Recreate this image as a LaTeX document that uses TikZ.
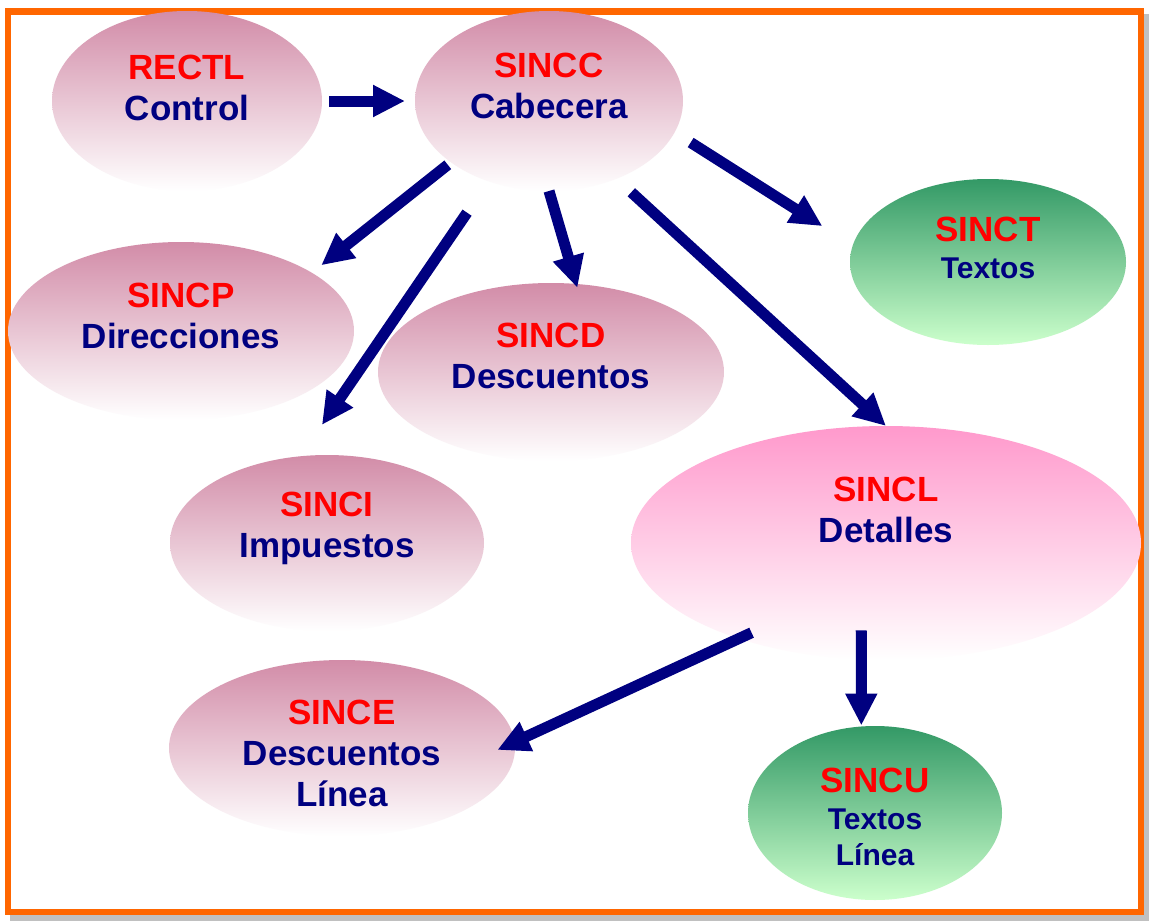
\documentclass[tikz,border=0pt]{standalone}
\usepackage{fontspec}
\setmainfont{Liberation Sans}
\usetikzlibrary{shapes.geometric,arrows.meta}
\definecolor{navy}{RGB}{0,0,128}
\definecolor{framecol}{RGB}{255,102,0}
\definecolor{shadowcol}{RGB}{192,192,192}
\definecolor{mauve}{RGB}{210,140,168}
\definecolor{rose}{RGB}{255,153,204}
\definecolor{leaf}{RGB}{51,153,102}
\definecolor{mint}{RGB}{204,255,204}
\newcommand{\tabla}[1]{\textcolor{red}{#1}}
\newcommand{\chico}{\fontsize{30}{37}\selectfont}
\begin{document}
\begin{tikzpicture}[x=1pt,y=-1pt]
		\tikzstyle{bubble}=[ellipse,inner sep=0,outer sep=0]
		\tikzstyle{mauvefill}=[top color=mauve,bottom color=white]
		\tikzstyle{rosefill}=[top color=rose,bottom color=white]
		\tikzstyle{leaffill}=[top color=leaf,bottom color=mint]
		\tikzstyle{tabletext}=[align=center,inner sep=0,anchor=north,text=navy,font=\bfseries\fontsize{35}{41}\selectfont]
		\tikzstyle{flow}=[navy,line width=11pt,-{Triangle[length=32pt,width=30pt]}]
		\useasboundingbox (0,0) rectangle (1149,921);
		% frame
		\fill[shadowcol] (10,14) rectangle (1149,921);
		\draw[framecol,fill=white,line width=6.5pt] (8,11.5) rectangle (1141,912);
		% tables
		\node[bubble,mauvefill,minimum width=270pt,minimum height=180pt](rectl)at(187,101){};
		\node[bubble,mauvefill,minimum width=268pt,minimum height=180pt](sincc)at(549,101){};
		\node[bubble,leaffill,minimum width=276pt,minimum height=166pt](sinct)at(988,262){};
		\node[bubble,mauvefill,minimum width=346pt,minimum height=178pt](sincp)at(181,331){};
		\node[bubble,mauvefill,minimum width=346pt,minimum height=178pt](sincd)at(551,372){};
		\node[bubble,mauvefill,minimum width=314pt,minimum height=176pt](sinci)at(327,543){};
		\node[bubble,rosefill,minimum width=510pt,minimum height=234pt](sincl)at(886,543){};
		\node[bubble,mauvefill,minimum width=346pt,minimum height=176pt](since)at(342,748){};
		\node[bubble,leaffill,minimum width=254pt,minimum height=174pt](sincu)at(875,813){};
		% names
		\node[tabletext](rectl-t)at(187,55){\tabla{RECTL}\\Control};
		\node[tabletext](sincc-t)at(549,53){\tabla{SINCC}\\Cabecera};
		\node[tabletext](sinct-t)at(988,217){\tabla{SINCT}\\[-4pt]{\chico Textos}};
		\node[tabletext](sincp-t)at(181,283){\tabla{SINCP}\\Direcciones};
		\node[tabletext](sincd-t)at(551,323){\tabla{SINCD}\\Descuentos};
		\node[tabletext](sinci-t)at(327,492){\tabla{SINCI}\\Impuestos};
		\node[tabletext](sincl-t)at(886,477){\tabla{SINCL}\\Detalles};
		\node[tabletext](since-t)at(342,700){\tabla{SINCE}\\Descuentos\\L\'{\i}nea};
		\node[tabletext](sincu-t)at(875,768){\tabla{SINCU}\\[-4pt]{\chico Textos}\\[-5pt]{\chico L\'{\i}nea}};
		% links
		\draw[flow,shorten <=7pt,shorten >=10pt] (rectl.east) -- (sincc.west);
		\draw[flow,shorten <=4pt,shorten >=12pt] (sincc.212) -- (sincp.24);
		\draw[flow,shorten <=38pt,shorten >=38pt] (sincc.233) -- (sinci.107);
		\draw[flow,shorten >=-4pt] (sincc.south) -- (sincd.74);
		\draw[flow,shorten <=20pt] (sincc.311) -- (sincl.north);
		\draw[flow,shorten <=19pt,shorten >=36pt] (sincc.-14) -- (sinct.173);
		\draw[flow,shorten <=-14pt,shorten >=-19pt] (sincl.213) -- (since.2);
		\draw[flow,shorten <=-29pt,shorten >=1pt] (sincl.258) -- (sincu.99);
		\end{tikzpicture}
\end{document}
